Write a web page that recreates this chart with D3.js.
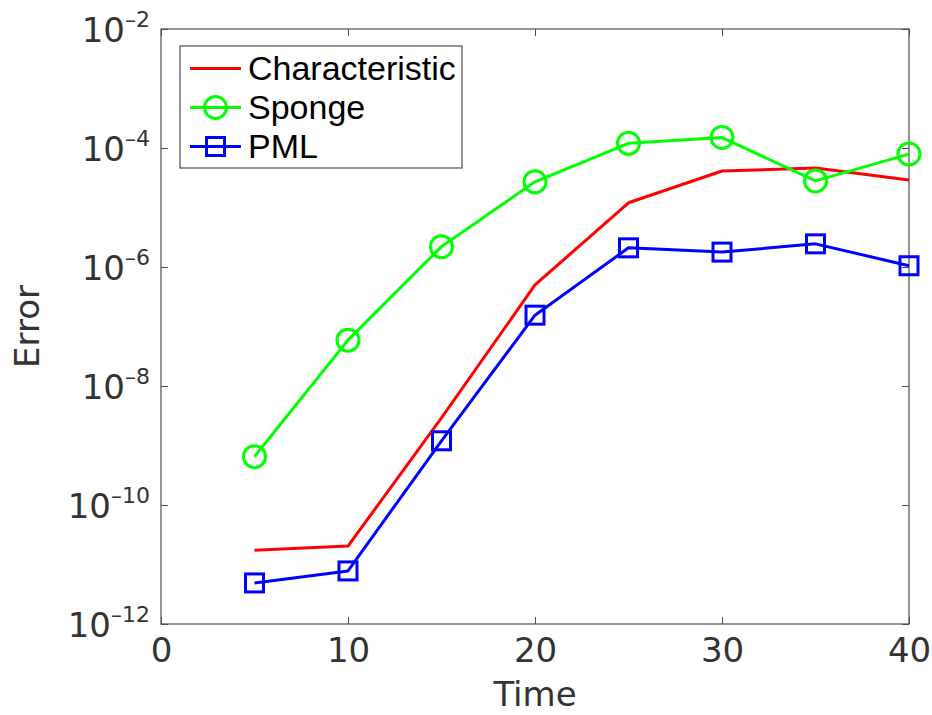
<!DOCTYPE html>
<html>
<head>
<meta charset="utf-8">
<script src="https://cdn.jsdelivr.net/npm/d3@7"></script>
<style>
  html, body { margin: 0; padding: 0; background: #fff; }
  svg { display: block; }
</style>
</head>
<body>
<svg id="chart" width="932" height="715"></svg>
<script>
// Time samples and error values for the three boundary treatments
const times = [5, 10, 15, 20, 25, 30, 35, 40];
const characteristic = [1.74e-11, 2.04e-11, 2.9e-9, 5.0e-7, 1.2e-5, 4.1e-5, 4.6e-5, 2.9e-5];
const sponge = [6.5e-10, 5.9e-8, 2.2e-6, 2.7e-5, 1.2e-4, 1.5e-4, 2.8e-5, 7.9e-5];
const pml = [4.9e-12, 7.8e-12, 1.2e-9, 1.55e-7, 2.1e-6, 1.78e-6, 2.45e-6, 1.05e-6];

const xTicks = [0, 10, 20, 30, 40];
const yTickExponents = [-2, -4, -6, -8, -10, -12];
const seriesNames = ["Characteristic", "Sponge", "PML"];

const svg = d3.select("#chart");
const plotLeft = 161, plotRight = 909, plotTop = 29, plotBottom = 624;

const x = d3.scaleLinear().domain([0, 40]).range([plotLeft, plotRight]);
const y = d3.scaleLog().domain([1e-12, 1e-2]).range([plotBottom, plotTop]);

const axisColor = "#333333";
const frameColor = "#4d4d4d";
const tickFont = "'DejaVu Sans', sans-serif";

// Box around the plot area
svg.append("rect")
  .attr("x", plotLeft).attr("y", plotTop)
  .attr("width", plotRight - plotLeft).attr("height", plotBottom - plotTop)
  .attr("fill", "none").attr("stroke", frameColor).attr("stroke-width", 1.2);

// X axis ticks (inward, mirrored on top)
const tickLen = 7;
const gx = svg.append("g").attr("transform", `translate(0,${plotBottom})`)
  .call(d3.axisBottom(x).tickValues(xTicks).tickSize(-tickLen).tickFormat(d3.format("d")).tickPadding(14));
gx.select(".domain").remove();
gx.selectAll("line").attr("stroke", frameColor);
gx.selectAll("text")
  .attr("font-family", tickFont).attr("font-size", 34).attr("fill", axisColor);

const gxt = svg.append("g").attr("transform", `translate(0,${plotTop})`)
  .call(d3.axisTop(x).tickValues(xTicks).tickSize(-tickLen).tickFormat(""));
gxt.select(".domain").remove();
gxt.selectAll("line").attr("stroke", frameColor);

// Y axis ticks (inward, mirrored on right) with power-of-ten labels
const yTickVals = yTickExponents.map(e => Math.pow(10, e));
const gy = svg.append("g").attr("transform", `translate(${plotLeft},0)`)
  .call(d3.axisLeft(y).tickValues(yTickVals).tickSize(-tickLen).tickFormat(""));
gy.select(".domain").remove();
gy.selectAll("line").attr("stroke", frameColor);

const gyr = svg.append("g").attr("transform", `translate(${plotRight},0)`)
  .call(d3.axisRight(y).tickValues(yTickVals).tickSize(-tickLen).tickFormat(""));
gyr.select(".domain").remove();
gyr.selectAll("line").attr("stroke", frameColor);

const yLabels = svg.append("g");
yTickExponents.forEach(e => {
  const t = yLabels.append("text")
    .attr("x", 150).attr("y", y(Math.pow(10, e)) + 13)
    .attr("text-anchor", "end")
    .attr("font-family", tickFont).attr("fill", axisColor);
  t.append("tspan").attr("font-size", 34).text("10");
  t.append("tspan").attr("font-size", 22).attr("dy", -15).text("\u2013" + Math.abs(e));
});

// Axis titles
svg.append("text")
  .attr("x", (plotLeft + plotRight) / 2).attr("y", 706)
  .attr("text-anchor", "middle")
  .attr("font-family", tickFont).attr("font-size", 34).attr("fill", axisColor)
  .text("Time");

svg.append("text")
  .attr("transform", `translate(39,${(plotTop + plotBottom) / 2}) rotate(-90)`)
  .attr("text-anchor", "middle")
  .attr("font-family", tickFont).attr("font-size", 34).attr("fill", axisColor)
  .text("Error");

// Series
const series = [
  { name: seriesNames[0], values: characteristic, color: "#ff0000", marker: "none" },
  { name: seriesNames[1], values: sponge, color: "#00ff00", marker: "circle" },
  { name: seriesNames[2], values: pml, color: "#0000ff", marker: "square" }
];

const line = d3.line().x(d => x(d[0])).y(d => y(d[1]));
const plot = svg.append("g");

function drawMarker(g, kind, cx, cy, color) {
  if (kind === "circle") {
    g.append("circle").attr("cx", cx).attr("cy", cy).attr("r", 11)
      .attr("fill", "none").attr("stroke", color).attr("stroke-width", 3);
  } else if (kind === "square") {
    const s = 18;
    g.append("rect").attr("x", cx - s / 2).attr("y", cy - s / 2)
      .attr("width", s).attr("height", s)
      .attr("fill", "none").attr("stroke", color).attr("stroke-width", 3);
  }
}

series.forEach(s => {
  const pts = times.map((t, i) => [t, s.values[i]]);
  plot.append("path").datum(pts).attr("d", line)
    .attr("fill", "none").attr("stroke", s.color).attr("stroke-width", 3)
    .attr("stroke-linejoin", "round");
  pts.forEach(p => drawMarker(plot, s.marker, x(p[0]), y(p[1]), s.color));
});

// Legend
const legend = svg.append("g");
legend.append("rect")
  .attr("x", 180).attr("y", 46).attr("width", 282).attr("height", 122)
  .attr("fill", "#fff").attr("stroke", frameColor).attr("stroke-width", 1.2);
series.forEach((s, i) => {
  const ly = 68.5 + i * 39;
  legend.append("line").attr("x1", 190).attr("x2", 241).attr("y1", ly).attr("y2", ly)
    .attr("stroke", s.color).attr("stroke-width", 3);
  drawMarker(legend, s.marker, 215.5, ly, s.color);
  legend.append("text")
    .attr("x", 248).attr("y", ly + 11.5)
    .attr("font-family", "'Liberation Sans', Arial, sans-serif").attr("font-size", 34)
    .attr("fill", "#000")
    .text(s.name);
});
</script>
</body>
</html>
